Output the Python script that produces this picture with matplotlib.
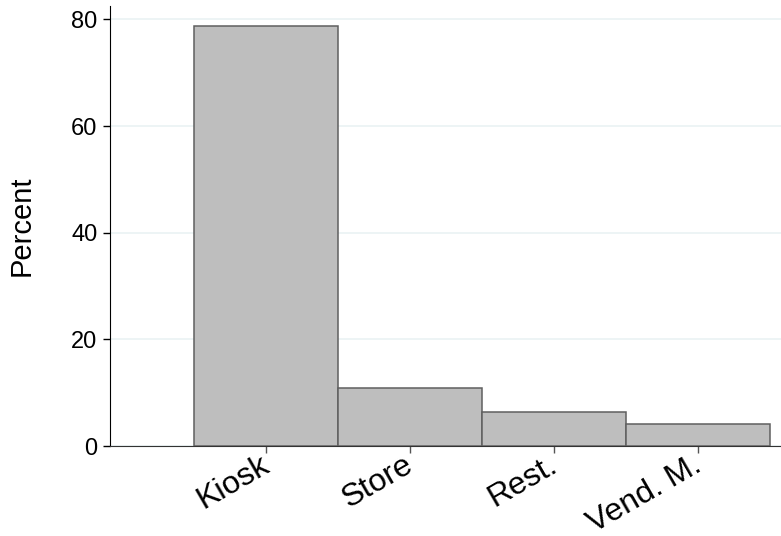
import matplotlib.pyplot as plt
import matplotlib.transforms as mtransforms

# Share of outlets by type (percent)
categories = ['Kiosk', 'Store', 'Rest.', 'Vend. M.']
percent = [78.7, 10.8, 6.3, 4.2]
yticks = [0, 20, 40, 60, 80]

plt.rcParams['font.family'] = ['Liberation Sans', 'DejaVu Sans']

fig = plt.figure(figsize=(7.81, 5.36), dpi=100)
ax = fig.add_axes([0.1408, 0.1679, 0.8592, 0.8209])

xpos = list(range(1, len(categories) + 1))
ax.bar(xpos, percent, width=1.0, color='#bebebe', edgecolor='#5f5f5f',
       linewidth=1.1, zorder=3)

ax.set_xlim(-0.086, 4.576)
ax.set_ylim(0, 82.5)

ax.set_yticks(yticks)
ax.set_yticklabels([str(v) for v in yticks], fontsize=17)
ax.yaxis.grid(True, color='#eaf2f3', linewidth=1.2, zorder=0)

ax.set_xticks(xpos)
ax.set_xticklabels(categories, fontsize=23, rotation=30, ha='right',
                   va='baseline', rotation_mode='anchor')
ax.tick_params(axis='y', length=5, width=1, color='black', pad=4)
ax.tick_params(axis='x', length=5, width=1, color='#555555', pad=12)

# nudge the slanted labels a little to the right
shift = mtransforms.ScaledTranslation(5 / 100, 0, fig.dpi_scale_trans)
for lbl in ax.get_xticklabels():
    lbl.set_transform(lbl.get_transform() + shift)

ax.set_ylabel('Percent', fontsize=21, va='center')
ax.yaxis.set_label_coords(-0.131, 0.5)

ax.spines['top'].set_visible(False)
ax.spines['right'].set_visible(False)
ax.spines['left'].set_color('black')
ax.spines['bottom'].set_color('#333333')

fig.savefig('out.png', dpi=100)
